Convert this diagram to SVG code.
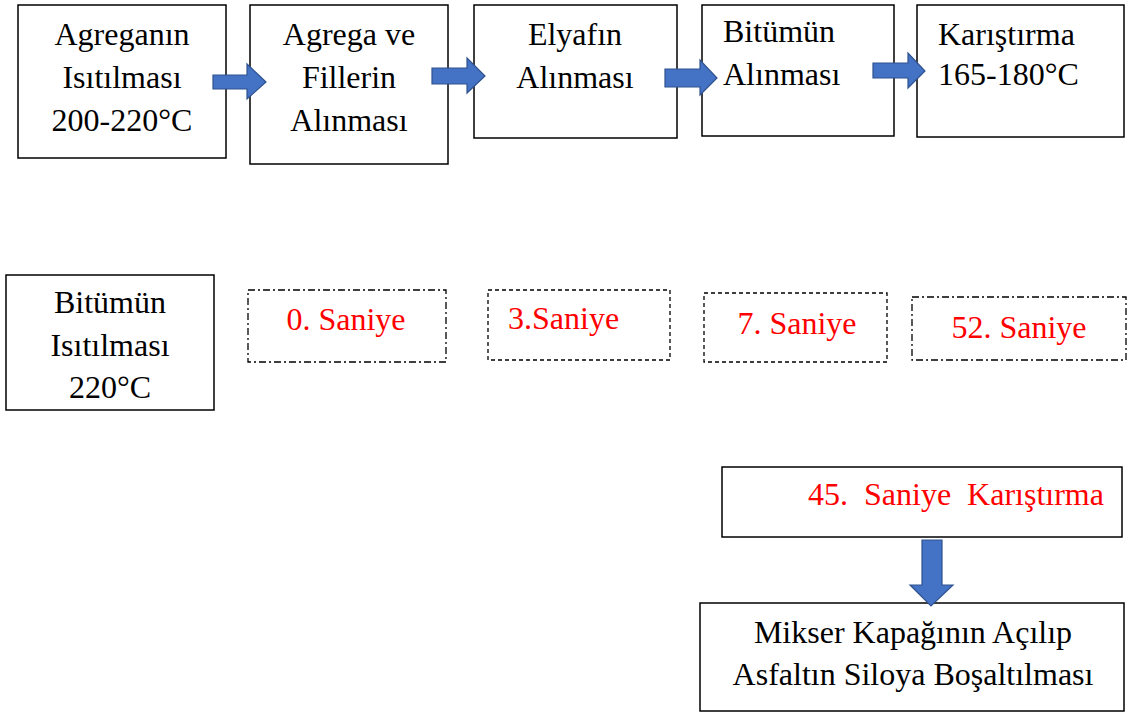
<svg xmlns="http://www.w3.org/2000/svg" width="1129" height="713" viewBox="0 0 1129 713">
<style>
.box{fill:#fff;stroke:#000;stroke-width:1.5}
.dash{fill:#fff;stroke:#000;stroke-width:1.3;stroke-dasharray:4 3}
.dashdot{fill:#fff;stroke:#000;stroke-width:1.3;stroke-dasharray:7 3 2 3}
.t{font-family:'Liberation Serif','Times New Roman',Times,'DejaVu Serif',serif;font-size:32px;fill:#000}
.r{fill:#ff0000}
.c{text-anchor:middle}
.arr{fill:#4472C4;stroke:#2F528F;stroke-width:1.2}
</style>
<rect width="1129" height="713" fill="#fff"/>
<g id="n1"><rect class="box" x="18" y="5" width="208" height="153"/>
<text class="t c" x="122" y="45">Agreganın</text><text class="t c" x="122" y="88">Isıtılması</text><text class="t c" x="122" y="131">200-220°C</text></g>
<g id="n2"><rect class="box" x="250" y="5" width="198" height="159"/>
<text class="t c" x="349" y="45">Agrega ve</text><text class="t c" x="349" y="88">Fillerin</text><text class="t c" x="349" y="131">Alınması</text></g>
<g id="n3"><rect class="box" x="474" y="5" width="203" height="133"/>
<text class="t c" x="575" y="45">Elyafın</text><text class="t c" x="575" y="88">Alınması</text></g>
<g id="n4"><rect class="box" x="702" y="5" width="192" height="131"/>
<text class="t" x="723" y="42">Bitümün</text><text class="t" x="723" y="85">Alınması</text></g>
<g id="n5"><rect class="box" x="917" y="5" width="207" height="132"/>
<text class="t" x="938" y="45">Karıştırma</text><text class="t" x="938" y="85">165-180°C</text></g>
<g id="n6"><rect class="box" x="6" y="275" width="208" height="135"/>
<text class="t c" x="110" y="313">Bitümün</text><text class="t c" x="110" y="356">Isıtılması</text><text class="t c" x="110" y="398">220°C</text></g>
<g id="n7"><rect class="dashdot" x="248" y="290" width="198" height="72"/>
<text class="t r c" x="346" y="330">0. Saniye</text></g>
<g id="n8"><rect class="dash" x="488" y="290" width="182" height="70"/>
<text class="t r" x="508" y="329">3.Saniye</text></g>
<g id="n9"><rect class="dash" x="704" y="293" width="183" height="69"/>
<text class="t r c" x="797" y="334">7. Saniye</text></g>
<g id="n10"><rect class="dashdot" x="912" y="297" width="214" height="63"/>
<text class="t r c" x="1019" y="338">52. Saniye</text></g>
<g id="n11"><rect class="box" x="722" y="467" width="400" height="70"/>
<text class="t r" x="808" y="505" xml:space="preserve">45.  Saniye  Karıştırma</text></g>
<g id="n12"><rect class="box" x="700" y="603" width="424" height="108"/>
<text class="t c" x="913" y="643">Mikser Kapağının Açılıp</text><text class="t c" x="913" y="685">Asfaltın Siloya Boşaltılması</text></g>
<g id="connectors">
<polygon class="arr" points="213,75 247,75 247,64 266,82 247,99 247,89 213,89"/>
<polygon class="arr" points="432,68 467,68 467,58 485,76 467,93 467,84 432,84"/>
<polygon class="arr" points="665,69 700,69 700,60 717,78 700,95 700,87 665,87"/>
<polygon class="arr" points="873,63 908,63 908,53 925,71 908,88 908,78 873,78"/>
<polygon class="arr" points="922,540 942,540 942,585 953,585 931,606 910,585 922,585"/>
</g>
</svg>
